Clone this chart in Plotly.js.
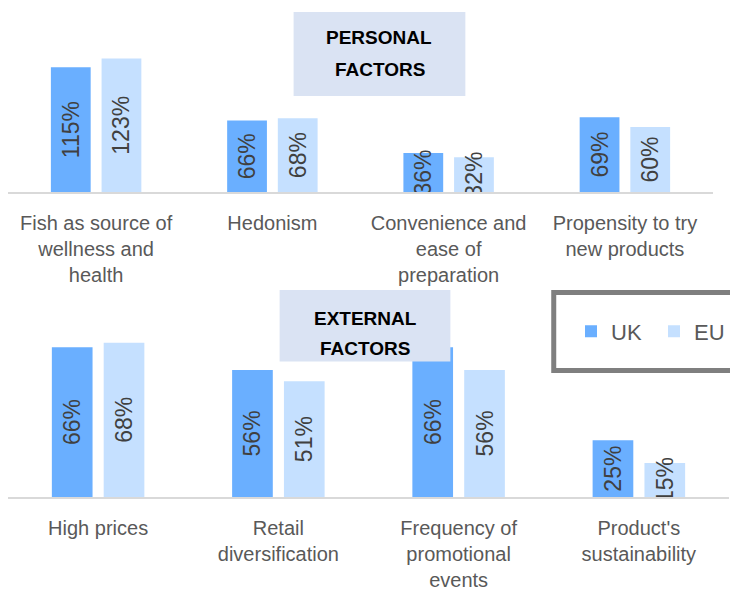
<!DOCTYPE html>
<html>
<head>
<meta charset="utf-8">
<script src="https://cdn.plot.ly/plotly-3.0.1.min.js"></script>
<style>html,body{margin:0;padding:0;background:#fff;overflow:hidden;}#chart{width:730px;height:592px;}</style>
</head>
<body>
<div id="chart"></div>
<script>
const personalCategories = ["Fish as source of<br>wellness and<br>health", "Hedonism", "Convenience and<br>ease of<br>preparation", "Propensity to try<br>new products"];
const personalUK = [115, 66, 36, 69];
const personalEU = [123, 68, 32, 60];

const externalCategories = ["High prices", "Retail<br>diversification", "Frequency of<br>promotional<br>events", "Product's<br>sustainability"];
const externalUK = [66, 56, 66, 25];
const externalEU = [68, 51, 56, 15];

const seriesNames = ["UK", "EU"];
const colorUK = "#6AAFFF";
const colorEU = "#C5E0FF";
const FONT = "Liberation Sans, Arial, sans-serif";

function barTrace(name, cats, vals, color, xa, ya, showlegend, legendId) {
  return {
    type: "bar", name: name, x: cats, y: vals,
    xaxis: xa, yaxis: ya,
    marker: {color: color},
    texttemplate: "%{y}%",
    textposition: "inside",
    insidetextanchor: "middle",
    textangle: -90,
    constraintext: "none",
    insidetextfont: {family: FONT, size: 23, color: "#404040"},
    showlegend: showlegend,
    legend: legendId,
    hoverinfo: "skip"
  };
}

const data = [
  barTrace(seriesNames[0], personalCategories, personalUK, colorUK, "x", "y", true, "legend"),
  barTrace(seriesNames[1], personalCategories, personalEU, colorEU, "x", "y", true, "legend2"),
  barTrace(seriesNames[0], externalCategories, externalUK, colorUK, "x2", "y2", false, "legend"),
  barTrace(seriesNames[1], externalCategories, externalEU, colorEU, "x2", "y2", false, "legend2")
];

const H = 592, W = 730;
const py = v => 1 - v / H;
const px = v => v / W;

const xCommon = {
  showgrid: false, zeroline: false, showline: true,
  linecolor: "#D9D9D9", linewidth: 2, ticks: "",
  tickfont: {family: FONT, size: 20, color: "#595959"},
  ticklabelstandoff: 12, fixedrange: true
};

const legendCommon = {
  orientation: "h", xanchor: "left", y: py(331.5), yanchor: "middle",
  font: {family: FONT, size: 22, color: "#595959"},
  bgcolor: "rgba(0,0,0,0)", borderwidth: 0
};

const layout = {
  width: W, height: H,
  margin: {l: 0, r: 0, t: 0, b: 0},
  paper_bgcolor: "#fff", plot_bgcolor: "rgba(0,0,0,0)",
  barmode: "group", bargap: 0.425, bargroupgap: 0.215,
  showlegend: true,
  legend: Object.assign({}, legendCommon, {x: px(571)}),
  legend2: Object.assign({}, legendCommon, {x: px(655)}),
  xaxis: Object.assign({}, xCommon, {domain: [px(8), px(714)], anchor: "y"}),
  yaxis: {domain: [py(192), py(40)], range: [0, 140.1], visible: false, fixedrange: true},
  xaxis2: Object.assign({}, xCommon, {domain: [px(8), 1], anchor: "y2"}),
  yaxis2: {domain: [py(497), py(330)], range: [0, 73.57], visible: false, fixedrange: true},
  shapes: [
    {type: "rect", xref: "paper", yref: "paper", x0: px(294), x1: px(466), y0: py(96), y1: py(12),
     fillcolor: "#DAE3F3", line: {width: 0}, layer: "above"},
    {type: "rect", xref: "paper", yref: "paper", x0: px(280), x1: px(451), y0: py(361.5), y1: py(290),
     fillcolor: "#DAE3F3", line: {width: 0}, layer: "above"},
    {type: "rect", xref: "paper", yref: "paper", x0: px(554.5), x1: px(760), y0: py(370.5), y1: py(292.5),
     fillcolor: "rgba(255,255,255,0)", line: {width: 5, color: "#7F7F7F"}, layer: "above"}
  ],
  annotations: [
    {text: "<b>PERSONAL</b>", xref: "paper", yref: "paper", x: px(380), y: py(38), showarrow: false,
     font: {family: FONT, size: 19, color: "#000"}, xanchor: "center", yanchor: "middle"},
    {text: "<b>FACTORS</b>", xref: "paper", yref: "paper", x: px(381), y: py(69), showarrow: false,
     font: {family: FONT, size: 19, color: "#000"}, xanchor: "center", yanchor: "middle"},
    {text: "<b>EXTERNAL</b>", xref: "paper", yref: "paper", x: px(366), y: py(318), showarrow: false,
     font: {family: FONT, size: 19, color: "#000"}, xanchor: "center", yanchor: "middle"},
    {text: "<b>FACTORS</b>", xref: "paper", yref: "paper", x: px(366), y: py(348), showarrow: false,
     font: {family: FONT, size: 19, color: "#000"}, xanchor: "center", yanchor: "middle"}
  ]
};

Plotly.newPlot("chart", data, layout, {displayModeBar: false, staticPlot: true});
</script>
</body>
</html>
